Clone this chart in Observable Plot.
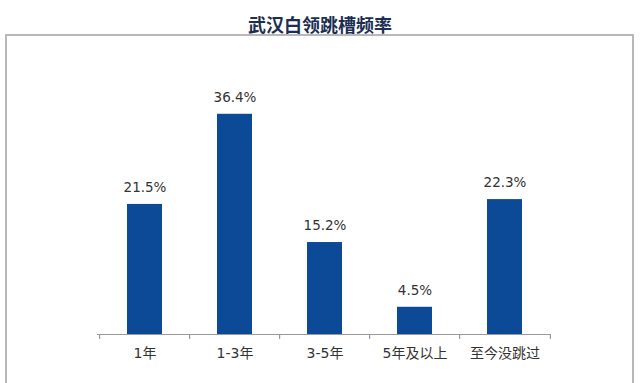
<!DOCTYPE html>
<html><head><meta charset="utf-8">
<script src="https://cdn.jsdelivr.net/npm/d3@7"></script>
<script src="https://cdn.jsdelivr.net/npm/@observablehq/plot@0.6"></script>
<style>
body{margin:0;background:#fff;width:640px;height:383px;overflow:hidden;font-family:'DejaVu Sans','Noto Sans CJK SC',sans-serif;}
#title{height:34px;box-sizing:border-box;padding-top:15px;text-align:center;font:bold 18px/18px 'Noto Sans CJK SC',sans-serif;color:#1c2f52;}
#frame{margin-left:5px;width:625px;border:2px solid #b8b8b8;border-bottom:none;height:347px;}
</style></head><body>
<div id="title">武汉白领跳槽频率</div>
<div id="frame"></div>
<script>
const categories = ["1年", "1-3年", "3-5年", "5年及以上", "至今没跳过"];
const values = [21.5, 36.4, 15.2, 4.5, 22.3];
const valueLabels = ["21.5%", "36.4%", "15.2%", "4.5%", "22.3%"];

const data = categories.map((c, i) => ({category: c, value: values[i], label: valueLabels[i]}));

const W = 625, H = 347, mL = 90, mR = 81, mT = 56, mB = 49;
const step = (W - mL - mR) / categories.length;
const tickDown = 5 * 40 / (H - mT - mB); // 5px expressed in data units

const chart = Plot.plot({
  width: W,
  height: H,
  marginLeft: mL,
  marginRight: mR,
  marginTop: mT,
  marginBottom: mB,
  style: {fontFamily: "'DejaVu Sans','Noto Sans CJK SC',sans-serif", background: "#fff", overflow: "visible"},
  x: {domain: categories, paddingInner: 0.615, paddingOuter: 0.3075},
  y: {domain: [0, 40], axis: null},
  marks: [
    Plot.barY(data, {x: "category", y: "value", fill: "#0c4a97"}),
    Plot.ruleY([0], {stroke: "#999", strokeWidth: 1.2}),
    Plot.ruleX(categories, {x: d => d, y1: 0, y2: -tickDown, dx: -step / 2, stroke: "#999", strokeWidth: 1.2}),
    Plot.ruleX(categories.slice(-1), {x: d => d, y1: 0, y2: -tickDown, dx: step / 2, stroke: "#999", strokeWidth: 1.2}),
    Plot.text(data, {x: "category", y: "value", text: "label", dy: -17, fontSize: 13.5, fill: "#333"}),
    Plot.axisX({tickSize: 0, tickPadding: 14, fontSize: 14, fill: "#333", label: null})
  ]
});
document.getElementById("frame").appendChild(chart);
</script>
</body></html>
